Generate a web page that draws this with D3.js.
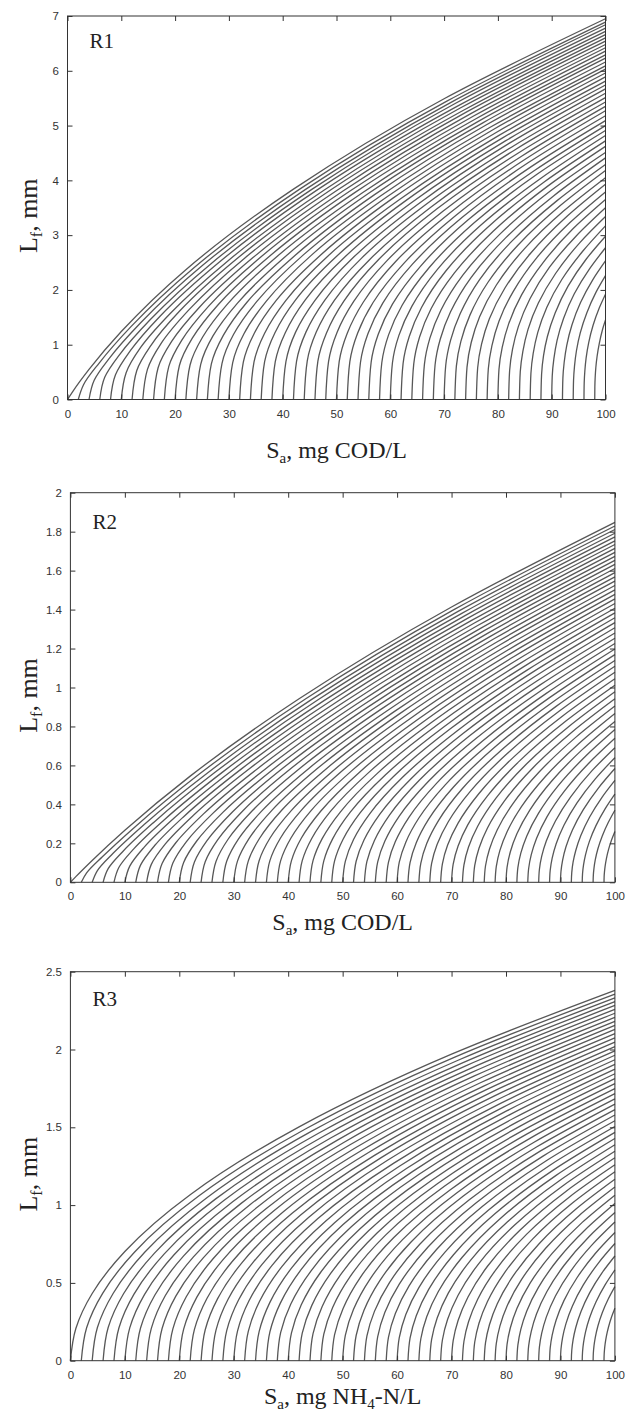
<!DOCTYPE html>
<html><head><meta charset="utf-8">
<script src="https://cdn.jsdelivr.net/npm/d3@7"></script>
<style>body{margin:0;background:#fff}svg{display:block}</style>
</head><body>
<script>
// Biofilm thickness L_f (mm) against bulk substrate S_a for reactors R1, R2, R3.
// Each curve starts on the axis at one S_a value and is sampled at fixed fractions
// of its run from that start to S_a = 100.
const saMax = 100;
const startSa = [0, 2, 4, 6, 8, 10, 12, 14, 16, 18, 20, 22, 24, 26, 28, 30, 32, 34, 36, 38, 40, 42, 44, 46, 48,
                 50, 52, 54, 56, 58, 60, 62, 64, 66, 68, 70, 72, 74, 76, 78, 80, 82, 84, 86, 88, 90, 92, 94, 96, 98];
const knotFraction = [0, 0.01, 0.04, 0.1, 0.22, 0.42, 0.7, 1];

const xTicks = [0, 10, 20, 30, 40, 50, 60, 70, 80, 90, 100];
const r1YTicks = [0, 1, 2, 3, 4, 5, 6, 7];
const r2YTicks = [0, 0.2, 0.4, 0.6, 0.8, 1, 1.2, 1.4, 1.6, 1.8, 2];
const r3YTicks = [0, 0.5, 1, 1.5, 2, 2.5];

// L_f (mm) at knotFraction[1..7] for each start value, R1
const r1Lf = [
  [0.15, 0.55, 1.24, 2.37, 3.84, 5.49, 6.95],
  [0.27, 0.67, 1.33, 2.41, 3.84, 5.45, 6.89],
  [0.35, 0.76, 1.40, 2.45, 3.84, 5.42, 6.84],
  [0.41, 0.83, 1.46, 2.48, 3.84, 5.39, 6.78],
  [0.45, 0.89, 1.52, 2.51, 3.84, 5.35, 6.72],
  [0.49, 0.95, 1.56, 2.53, 3.83, 5.32, 6.66],
  [0.53, 0.99, 1.61, 2.56, 3.83, 5.28, 6.60],
  [0.55, 1.03, 1.64, 2.58, 3.82, 5.25, 6.54],
  [0.58, 1.06, 1.67, 2.59, 3.81, 5.21, 6.48],
  [0.60, 1.09, 1.70, 2.61, 3.80, 5.17, 6.42],
  [0.62, 1.12, 1.73, 2.62, 3.79, 5.13, 6.36],
  [0.63, 1.14, 1.75, 2.63, 3.77, 5.09, 6.29],
  [0.64, 1.16, 1.76, 2.63, 3.76, 5.05, 6.23],
  [0.65, 1.17, 1.78, 2.63, 3.74, 5.01, 6.16],
  [0.66, 1.19, 1.79, 2.64, 3.72, 4.96, 6.09],
  [0.67, 1.20, 1.80, 2.64, 3.70, 4.92, 6.03],
  [0.68, 1.21, 1.81, 2.63, 3.68, 4.87, 5.96],
  [0.68, 1.21, 1.81, 2.63, 3.65, 4.82, 5.89],
  [0.69, 1.22, 1.82, 2.62, 3.63, 4.77, 5.81],
  [0.69, 1.22, 1.82, 2.61, 3.60, 4.72, 5.74],
  [0.69, 1.23, 1.81, 2.60, 3.57, 4.67, 5.67],
  [0.70, 1.23, 1.81, 2.59, 3.54, 4.61, 5.59],
  [0.70, 1.23, 1.81, 2.57, 3.51, 4.56, 5.51],
  [0.70, 1.22, 1.80, 2.56, 3.48, 4.50, 5.43],
  [0.69, 1.22, 1.79, 2.54, 3.44, 4.44, 5.35],
  [0.69, 1.21, 1.78, 2.52, 3.40, 4.38, 5.27],
  [0.69, 1.21, 1.77, 2.49, 3.36, 4.32, 5.18],
  [0.68, 1.20, 1.76, 2.47, 3.32, 4.25, 5.09],
  [0.68, 1.19, 1.74, 2.44, 3.28, 4.18, 5.00],
  [0.67, 1.18, 1.72, 2.41, 3.23, 4.12, 4.91],
  [0.67, 1.17, 1.70, 2.38, 3.18, 4.04, 4.82],
  [0.66, 1.15, 1.68, 2.35, 3.13, 3.97, 4.72],
  [0.65, 1.14, 1.66, 2.31, 3.07, 3.89, 4.62],
  [0.64, 1.12, 1.63, 2.27, 3.01, 3.81, 4.51],
  [0.63, 1.10, 1.60, 2.23, 2.95, 3.72, 4.41],
  [0.62, 1.08, 1.57, 2.19, 2.89, 3.63, 4.29],
  [0.61, 1.06, 1.54, 2.14, 2.82, 3.54, 4.18],
  [0.59, 1.04, 1.51, 2.09, 2.75, 3.44, 4.05],
  [0.58, 1.01, 1.47, 2.03, 2.67, 3.34, 3.93],
  [0.56, 0.98, 1.43, 1.97, 2.59, 3.23, 3.79],
  [0.55, 0.95, 1.38, 1.91, 2.50, 3.12, 3.65],
  [0.53, 0.92, 1.33, 1.84, 2.41, 2.99, 3.50],
  [0.51, 0.88, 1.28, 1.76, 2.30, 2.86, 3.34],
  [0.48, 0.84, 1.22, 1.68, 2.19, 2.71, 3.17],
  [0.46, 0.80, 1.15, 1.58, 2.07, 2.56, 2.98],
  [0.43, 0.74, 1.08, 1.48, 1.93, 2.38, 2.77],
  [0.39, 0.68, 0.99, 1.36, 1.77, 2.18, 2.53],
  [0.35, 0.61, 0.89, 1.22, 1.58, 1.95, 2.26],
  [0.30, 0.52, 0.76, 1.04, 1.35, 1.66, 1.92],
  [0.23, 0.40, 0.58, 0.79, 1.02, 1.26, 1.45]
];

// L_f (mm) at knotFraction[1..7] for each start value, R2
const r2Lf = [
  [0.029, 0.112, 0.267, 0.545, 0.942, 1.413, 1.848],
  [0.048, 0.132, 0.283, 0.553, 0.941, 1.402, 1.829],
  [0.060, 0.149, 0.298, 0.560, 0.939, 1.391, 1.811],
  [0.070, 0.162, 0.310, 0.567, 0.937, 1.379, 1.792],
  [0.077, 0.173, 0.320, 0.572, 0.934, 1.368, 1.773],
  [0.083, 0.182, 0.329, 0.577, 0.931, 1.356, 1.753],
  [0.088, 0.190, 0.337, 0.581, 0.927, 1.343, 1.734],
  [0.092, 0.197, 0.344, 0.584, 0.923, 1.331, 1.714],
  [0.096, 0.203, 0.350, 0.586, 0.918, 1.318, 1.694],
  [0.099, 0.208, 0.355, 0.587, 0.913, 1.305, 1.673],
  [0.102, 0.212, 0.359, 0.588, 0.908, 1.292, 1.653],
  [0.104, 0.215, 0.362, 0.589, 0.902, 1.278, 1.632],
  [0.106, 0.218, 0.365, 0.589, 0.896, 1.264, 1.611],
  [0.107, 0.221, 0.367, 0.588, 0.889, 1.250, 1.590],
  [0.109, 0.223, 0.368, 0.586, 0.882, 1.235, 1.568],
  [0.110, 0.224, 0.369, 0.585, 0.875, 1.221, 1.546],
  [0.110, 0.225, 0.370, 0.582, 0.867, 1.205, 1.524],
  [0.111, 0.226, 0.369, 0.579, 0.859, 1.190, 1.501],
  [0.111, 0.226, 0.369, 0.576, 0.850, 1.174, 1.478],
  [0.111, 0.226, 0.368, 0.572, 0.841, 1.158, 1.455],
  [0.111, 0.226, 0.366, 0.568, 0.832, 1.141, 1.431],
  [0.111, 0.225, 0.365, 0.563, 0.822, 1.124, 1.407],
  [0.111, 0.224, 0.362, 0.558, 0.811, 1.106, 1.383],
  [0.110, 0.223, 0.360, 0.552, 0.800, 1.088, 1.358],
  [0.110, 0.221, 0.356, 0.546, 0.789, 1.070, 1.333],
  [0.109, 0.220, 0.353, 0.539, 0.777, 1.051, 1.307],
  [0.108, 0.217, 0.349, 0.532, 0.765, 1.032, 1.280],
  [0.107, 0.215, 0.345, 0.525, 0.752, 1.012, 1.253],
  [0.105, 0.212, 0.340, 0.516, 0.738, 0.991, 1.226],
  [0.104, 0.209, 0.335, 0.508, 0.724, 0.970, 1.198],
  [0.103, 0.206, 0.330, 0.499, 0.709, 0.948, 1.169],
  [0.101, 0.203, 0.324, 0.489, 0.694, 0.926, 1.139],
  [0.099, 0.199, 0.317, 0.479, 0.678, 0.903, 1.109],
  [0.097, 0.195, 0.311, 0.468, 0.662, 0.879, 1.078],
  [0.095, 0.191, 0.304, 0.456, 0.644, 0.854, 1.045],
  [0.093, 0.186, 0.296, 0.444, 0.626, 0.828, 1.012],
  [0.090, 0.181, 0.288, 0.432, 0.607, 0.801, 0.978],
  [0.087, 0.175, 0.279, 0.418, 0.587, 0.773, 0.942],
  [0.085, 0.170, 0.270, 0.404, 0.566, 0.744, 0.905],
  [0.082, 0.164, 0.260, 0.388, 0.543, 0.713, 0.867],
  [0.078, 0.157, 0.249, 0.372, 0.520, 0.681, 0.826],
  [0.075, 0.150, 0.237, 0.354, 0.495, 0.647, 0.784],
  [0.071, 0.142, 0.225, 0.336, 0.468, 0.611, 0.739],
  [0.067, 0.134, 0.212, 0.315, 0.439, 0.573, 0.691],
  [0.062, 0.124, 0.197, 0.293, 0.408, 0.531, 0.640],
  [0.057, 0.114, 0.181, 0.269, 0.373, 0.485, 0.584],
  [0.051, 0.103, 0.162, 0.241, 0.335, 0.435, 0.523],
  [0.045, 0.089, 0.141, 0.210, 0.291, 0.377, 0.453],
  [0.037, 0.073, 0.116, 0.172, 0.238, 0.308, 0.370],
  [0.026, 0.052, 0.082, 0.122, 0.169, 0.218, 0.261]
];

// L_f (mm) at knotFraction[1..7] for each start value, R3
const r3Lf = [
  [0.207, 0.432, 0.702, 1.067, 1.503, 1.970, 2.380],
  [0.212, 0.433, 0.699, 1.058, 1.489, 1.951, 2.356],
  [0.213, 0.432, 0.695, 1.049, 1.475, 1.931, 2.332],
  [0.213, 0.430, 0.690, 1.040, 1.460, 1.911, 2.307],
  [0.212, 0.428, 0.685, 1.031, 1.446, 1.892, 2.283],
  [0.211, 0.425, 0.679, 1.021, 1.431, 1.871, 2.258],
  [0.210, 0.422, 0.674, 1.011, 1.416, 1.851, 2.233],
  [0.208, 0.419, 0.667, 1.001, 1.401, 1.830, 2.207],
  [0.207, 0.415, 0.661, 0.991, 1.386, 1.809, 2.181],
  [0.205, 0.411, 0.655, 0.980, 1.370, 1.788, 2.155],
  [0.203, 0.407, 0.648, 0.970, 1.354, 1.766, 2.129],
  [0.201, 0.403, 0.641, 0.959, 1.338, 1.745, 2.102],
  [0.199, 0.399, 0.634, 0.947, 1.321, 1.723, 2.075],
  [0.197, 0.395, 0.626, 0.936, 1.305, 1.700, 2.047],
  [0.195, 0.390, 0.619, 0.924, 1.288, 1.677, 2.019],
  [0.192, 0.385, 0.611, 0.912, 1.270, 1.654, 1.991],
  [0.190, 0.380, 0.603, 0.900, 1.253, 1.631, 1.963],
  [0.187, 0.375, 0.595, 0.887, 1.235, 1.607, 1.934],
  [0.185, 0.370, 0.587, 0.875, 1.217, 1.583, 1.904],
  [0.182, 0.365, 0.578, 0.862, 1.198, 1.558, 1.874],
  [0.179, 0.359, 0.570, 0.848, 1.180, 1.533, 1.844],
  [0.177, 0.354, 0.561, 0.835, 1.160, 1.508, 1.813],
  [0.174, 0.348, 0.551, 0.821, 1.141, 1.482, 1.781],
  [0.171, 0.342, 0.542, 0.807, 1.121, 1.456, 1.749],
  [0.168, 0.336, 0.533, 0.793, 1.100, 1.429, 1.716],
  [0.165, 0.330, 0.523, 0.778, 1.080, 1.401, 1.683],
  [0.162, 0.324, 0.513, 0.763, 1.058, 1.373, 1.649],
  [0.159, 0.317, 0.502, 0.747, 1.036, 1.345, 1.614],
  [0.155, 0.311, 0.492, 0.731, 1.014, 1.315, 1.579],
  [0.152, 0.304, 0.481, 0.715, 0.991, 1.285, 1.542],
  [0.148, 0.297, 0.470, 0.698, 0.968, 1.255, 1.505],
  [0.145, 0.289, 0.458, 0.681, 0.944, 1.223, 1.467],
  [0.141, 0.282, 0.446, 0.663, 0.919, 1.191, 1.428],
  [0.137, 0.274, 0.434, 0.645, 0.893, 1.157, 1.388],
  [0.133, 0.266, 0.421, 0.626, 0.867, 1.123, 1.346],
  [0.129, 0.258, 0.408, 0.607, 0.840, 1.088, 1.304],
  [0.125, 0.250, 0.395, 0.586, 0.812, 1.051, 1.259],
  [0.120, 0.241, 0.381, 0.565, 0.783, 1.013, 1.214],
  [0.116, 0.231, 0.366, 0.543, 0.752, 0.973, 1.166],
  [0.111, 0.222, 0.351, 0.521, 0.721, 0.932, 1.116],
  [0.106, 0.212, 0.335, 0.497, 0.687, 0.889, 1.064],
  [0.100, 0.201, 0.318, 0.471, 0.652, 0.843, 1.010],
  [0.095, 0.189, 0.300, 0.445, 0.615, 0.795, 0.952],
  [0.089, 0.177, 0.280, 0.416, 0.576, 0.744, 0.891],
  [0.082, 0.164, 0.260, 0.386, 0.533, 0.689, 0.824],
  [0.075, 0.150, 0.237, 0.352, 0.487, 0.629, 0.753],
  [0.067, 0.134, 0.212, 0.315, 0.436, 0.563, 0.673],
  [0.058, 0.116, 0.184, 0.273, 0.377, 0.487, 0.583],
  [0.048, 0.095, 0.150, 0.223, 0.308, 0.398, 0.476],
  [0.034, 0.067, 0.106, 0.158, 0.218, 0.282, 0.337]
];

const W = 631, H = 1415;
const serif = "Liberation Serif, Times New Roman, serif";
const sans = "Liberation Sans, Arial, sans-serif";

const panels = [
  {name: "R1", lf: r1Lf, yTicks: r1YTicks, yMax: 7,   box: {l: 67.5, r: 605.5, t: 16,    b: 399.5},
   nameDy: 32, xLabelY: 458, unit: "COD"},
  {name: "R2", lf: r2Lf, yTicks: r2YTicks, yMax: 2,   box: {l: 70.4, r: 614.9, t: 492.7, b: 882.3},
   nameDy: 36, xLabelY: 930, unit: "COD"},
  {name: "R3", lf: r3Lf, yTicks: r3YTicks, yMax: 2.5, box: {l: 70.4, r: 614.9, t: 971.7, b: 1360.7},
   nameDy: 34, xLabelY: 1404, unit: "NH4"}
];

const svg = d3.select("body").append("svg").attr("width", W).attr("height", H);
const tickLen = 5;
const fmt = d => String(+d.toFixed(1));

panels.forEach(P => {
  const {l, r, t, b} = P.box;
  const x = d3.scaleLinear().domain([0, saMax]).range([l, r]);
  const y = d3.scaleLinear().domain([0, P.yMax]).range([b, t]);
  const g = svg.append("g");

  // one curve per start value: the sampled thicknesses from the top down to the start on the axis
  const curves = startSa.map((s0, i) => [[s0, 0]].concat(
    P.lf[i].map((h, j) => [s0 + knotFraction[j + 1] * (saMax - s0), h])).reverse());

  // every curve rises steadily, so it is smoothed as S_a against L_f
  const line = d3.line().x(d => x(d[0])).y(d => y(d[1])).curve(d3.curveMonotoneY);
  g.append("g").selectAll("path").data(curves).join("path")
    .attr("d", line).attr("fill", "none")
    .attr("stroke", "#3a3a3a").attr("stroke-width", 1.3).attr("stroke-opacity", 0.85);

  // frame with inward ticks on all four sides
  g.append("rect").attr("x", l).attr("y", t).attr("width", r - l).attr("height", b - t)
    .attr("fill", "none").attr("stroke", "#333").attr("stroke-width", 1);

  const bottom = d3.axisBottom(x).tickValues(xTicks).tickSizeInner(-tickLen).tickSizeOuter(0).tickPadding(tickLen + 5);
  const top = d3.axisTop(x).tickValues(xTicks).tickSizeInner(-tickLen).tickSizeOuter(0).tickFormat("");
  const left = d3.axisLeft(y).tickValues(P.yTicks).tickSizeInner(-tickLen).tickSizeOuter(0)
    .tickPadding(tickLen + 3.5).tickFormat(fmt);
  const right = d3.axisRight(y).tickValues(P.yTicks).tickSizeInner(-tickLen).tickSizeOuter(0).tickFormat("");

  const styleAxis = sel => {
    sel.select(".domain").remove();
    sel.selectAll("line").attr("stroke", "#333");
    sel.selectAll("text").attr("font-family", sans).attr("font-size", 11.5).attr("fill", "#333");
  };
  g.append("g").attr("transform", `translate(0,${b})`).call(bottom).call(styleAxis);
  g.append("g").attr("transform", `translate(0,${t})`).call(top).call(styleAxis);
  g.append("g").attr("transform", `translate(${l},0)`).call(left).call(styleAxis);
  g.append("g").attr("transform", `translate(${r},0)`).call(right).call(styleAxis);

  // reactor label
  g.append("text").attr("x", l + 22).attr("y", t + P.nameDy)
    .attr("font-family", serif).attr("font-size", 21).attr("fill", "#222").text(P.name);

  // x-axis title
  const xl = g.append("text").attr("x", (l + r) / 2).attr("y", P.xLabelY).attr("text-anchor", "middle")
    .attr("font-family", serif).attr("font-size", 24).attr("fill", "#222");
  xl.append("tspan").text("S");
  xl.append("tspan").attr("font-size", 15).attr("dy", 5).text("a");
  if (P.unit === "NH4") {
    xl.append("tspan").attr("dy", -5).text(", mg NH");
    xl.append("tspan").attr("font-size", 15).attr("dy", 5).text("4");
    xl.append("tspan").attr("dy", -5).text("-N/L");
  } else {
    xl.append("tspan").attr("dy", -5).text(", mg COD/L");
  }

  // y-axis title
  const yl = g.append("text").attr("transform", `translate(37,${(t + b) / 2 + 8}) rotate(-90)`)
    .attr("text-anchor", "middle").attr("font-family", serif).attr("font-size", 26).attr("fill", "#222");
  yl.append("tspan").text("L");
  yl.append("tspan").attr("font-size", 16).attr("dy", 5).text("f");
  yl.append("tspan").attr("dy", -5).text(", mm");
});
</script>
</body></html>
